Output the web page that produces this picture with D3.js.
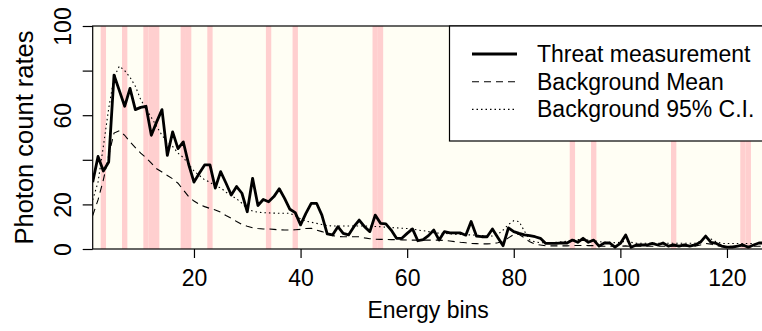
<!DOCTYPE html>
<html>
<head>
<meta charset="utf-8">
<script src="https://cdn.jsdelivr.net/npm/d3@7"></script>
<style>
  body { margin: 0; background: #fff; }
  svg text { font-family: "Liberation Sans", Arial, sans-serif; fill: #000; }
</style>
</head>
<body>
<div id="chart"></div>
<script>
// --- data ---
const threat = [30, 41.5, 35, 39, 78, 71, 64, 72, 62.5, 63.5,
  64, 51, 57, 62.5, 42, 52.5, 45, 48, 38, 30,
  34, 37.7, 37.7, 27.3, 34.7, 29.6, 24.2, 28, 25, 16.7,
  31.7, 19.5, 22.2, 21.2, 23.5, 27, 22.7, 17.8, 16.3, 10.8,
  16, 20.5, 20.5, 15.2, 6.8, 6.3, 10, 7, 6.3, 10,
  13, 10, 7.8, 15.2, 11.5, 11.3, 8.5, 4.8, 4.8, 7,
  9, 3.7, 4.2, 6, 8.5, 4, 7.8, 7.2, 7.2, 7.2,
  6.2, 12.3, 5.8, 5.5, 5.5, 9, 5.2, 1.5, 9.5, 7.8,
  7, 6.3, 6, 5.5, 4.8, 2.5, 2.5, 2.5, 2.7, 2.7,
  4, 3, 4.8, 3, 4, 1.3, 2.7, 2.7, 0.8, 2.5,
  6.3, 0.8, 1.8, 1.8, 1.8, 2.5, 1.8, 2.7, 1.3, 1.8,
  1.3, 1.8, 1.3, 1.8, 3, 5.8, 3, 2.5, 1.3, 0.8,
  0.8, 1.3, 1.8, 0.8, 1.8, 2.7, 2.7, 3];

const bgMean = [15, 22, 31, 42, 52, 53, 51, 48, 45.5, 43,
  41, 38.5, 36, 34.5, 33, 31.5, 29.5, 26.5, 23.5, 21.5,
  20, 19, 18.2, 17.5, 16.5, 15, 13.8, 12.3, 11, 10.2,
  9.5, 9.2, 9, 9, 8.8, 8.6, 8.5, 8.5, 8.6, 8.8,
  9.2, 9.3, 8.5, 7.8, 6.8, 6, 5.6, 5.5, 5.5, 5.5,
  5.5, 5, 4.6, 4.4, 4.3, 4.3, 4.2, 4.2, 4.1, 4,
  4, 4, 4, 4, 4, 4, 3.8, 3.6, 3.3, 3,
  2.8, 2.5, 2.4, 2.3, 2.3, 2.4, 2.8, 3.5, 5, 6.5,
  6.5, 5, 3.2, 2.2, 1.8, 1.4, 1.4, 1.4, 1.4, 1.4,
  1.5, 1.6, 1.6, 1.5, 1.5, 1.2, 1.2, 1.2, 1.2, 1.2,
  1.4, 1.2, 1.2, 1.2, 1.2, 1.2, 1.2, 1.2, 1.2, 1.2,
  1.2, 1.2, 1.2, 1.3, 1.8, 2.5, 2.2, 1.5, 1.2, 1.2,
  1.2, 1.2, 1.2, 1.2, 1.2, 1.2, 1.2, 1.2];

const bgCI = [22, 30, 46, 63, 77, 82, 80, 77, 73, 67,
  63, 59, 55, 51, 48, 46, 43, 41, 38, 35,
  33, 31, 30, 28, 27.5, 25.5, 24, 22.5, 20.5, 18,
  17, 16.5, 16.3, 16.2, 16.1, 16, 16, 16, 15, 13.5,
  12.5, 12, 11.5, 11, 10.5, 10.3, 10.3, 10.3, 10.3, 10.3,
  10.3, 10.3, 10.2, 10.1, 10, 9.8, 9.6, 9.5, 9.3, 9.2,
  9, 8.5, 8.2, 7.8, 7.3, 7.1, 7, 6.8, 6.6, 6.5,
  6.4, 6.3, 6.2, 6, 5.9, 5.8, 6.5, 8.5, 11, 12.7,
  12.3, 8, 4, 3.2, 2.8, 2.8, 2.8, 3, 3.2, 3.5,
  4, 4.2, 4.2, 4, 3.8, 3.3, 3, 3, 2.8, 3,
  3.5, 3, 2.6, 2.6, 2.6, 2.6, 2.6, 2.6, 2.6, 2.6,
  2.6, 2.6, 2.6, 2.6, 3.5, 5, 4.5, 3.2, 2.5, 2.5,
  2.5, 2.5, 2.5, 2.5, 2.5, 2.5, 2.5, 2.5];

// flagged bins (pink bands)
const flaggedBins = [3, 7, 11, 12, 13, 18, 19, 23, 34, 39, 54, 55, 91, 95, 110, 123, 124];

const yTicks = [0, 20, 40, 60, 80, 100];
const yLabels = [0, 20, 60, 100];
const xTicks = [20, 40, 60, 80, 100, 120];

const legendItems = [
  { label: "Threat measurement", dash: null, width: 3 },
  { label: "Background Mean", dash: "7,5", width: 1.1 },
  { label: "Background 95% C.I.", dash: "1.5,3", width: 1.1 }
];

// --- layout ---
const W = 762, H = 331;
const mLeft = 92.7, mRight = 769.6, mTop = 26, mBottom = 249;

const svg = d3.select("#chart").append("svg")
  .attr("width", W).attr("height", H);

const x = d3.scaleLinear().domain([1, 128]).range([mLeft, mRight]);
const y = d3.scaleLinear().domain([0, 100]).range([mBottom, mTop]);

svg.append("defs").append("clipPath").attr("id", "plotclip")
  .append("rect").attr("x", mLeft).attr("y", mTop)
  .attr("width", mRight - mLeft).attr("height", mBottom - mTop);

const plot = svg.append("g").attr("clip-path", "url(#plotclip)");

plot.append("rect")
  .attr("x", mLeft).attr("y", mTop)
  .attr("width", mRight - mLeft).attr("height", mBottom - mTop)
  .attr("fill", "#fffef4");

plot.selectAll(".band")
  .data(flaggedBins)
  .enter().append("rect")
  .attr("class", "band")
  .attr("x", d => x(d - 0.5))
  .attr("width", d => x(d + 0.5) - x(d - 0.5))
  .attr("y", mTop)
  .attr("height", mBottom - mTop)
  .attr("fill", "#ffcfcf");

const line = d3.line()
  .x((d, i) => x(i + 1))
  .y(d => y(d));

plot.append("path").datum(bgMean)
  .attr("d", line).attr("fill", "none")
  .attr("stroke", "#000").attr("stroke-width", 1.1)
  .attr("stroke-dasharray", "7,5");

plot.append("path").datum(bgCI)
  .attr("d", line).attr("fill", "none")
  .attr("stroke", "#000").attr("stroke-width", 1.1)
  .attr("stroke-dasharray", "1.5,3");

plot.append("path").datum(threat)
  .attr("d", line).attr("fill", "none")
  .attr("stroke", "#000").attr("stroke-width", 2.8)
  .attr("stroke-linejoin", "round");

// box
svg.append("rect")
  .attr("x", mLeft).attr("y", mTop)
  .attr("width", mRight - mLeft).attr("height", mBottom - mTop)
  .attr("fill", "none").attr("stroke", "#000").attr("stroke-width", 1.2);

// y axis
const yAxis = svg.append("g")
  .attr("transform", `translate(${mLeft},0)`)
  .call(d3.axisLeft(y).tickValues(yTicks).tickSize(10)
    .tickFormat(d => yLabels.includes(d) ? d : ""));
yAxis.select(".domain").remove();
yAxis.selectAll(".tick line").attr("stroke-width", 1.2);
yAxis.selectAll(".tick text")
  .attr("font-size", 23)
  .attr("text-anchor", "middle")
  .attr("x", null).attr("dy", null)
  .attr("transform", "translate(-22,0) rotate(-90)");

// x axis
const xAxis = svg.append("g")
  .attr("transform", `translate(0,${mBottom})`)
  .call(d3.axisBottom(x).tickValues(xTicks).tickSize(9));
xAxis.select(".domain").remove();
xAxis.selectAll(".tick line").attr("stroke-width", 1.2);
xAxis.selectAll(".tick text")
  .attr("font-size", 23)
  .attr("y", 37).attr("dy", null);

// axis titles
svg.append("text")
  .attr("transform", `translate(33,${(mTop + mBottom) / 2}) rotate(-90)`)
  .attr("text-anchor", "middle")
  .attr("font-size", 25.5)
  .text("Photon count rates");

svg.append("text")
  .attr("x", (mLeft + mRight) / 2 - 3).attr("y", 318)
  .attr("text-anchor", "middle")
  .attr("font-size", 23)
  .text("Energy bins");

// legend
const lg = svg.append("g");
lg.append("rect")
  .attr("x", 449.5).attr("y", mTop)
  .attr("width", mRight - 449.5).attr("height", 115)
  .attr("fill", "#fff").attr("stroke", "#000").attr("stroke-width", 1.2);

const rows = lg.selectAll(".row")
  .data(legendItems)
  .enter().append("g")
  .attr("transform", (d, i) => `translate(0,${54 + i * 27.7})`);

rows.append("line")
  .attr("x1", 472).attr("x2", 517)
  .attr("stroke", "#000")
  .attr("stroke-width", d => d.width)
  .attr("stroke-dasharray", d => d.dash);

rows.append("text")
  .attr("x", 537).attr("y", 8)
  .attr("font-size", 23)
  .text(d => d.label);
</script>
</body>
</html>
